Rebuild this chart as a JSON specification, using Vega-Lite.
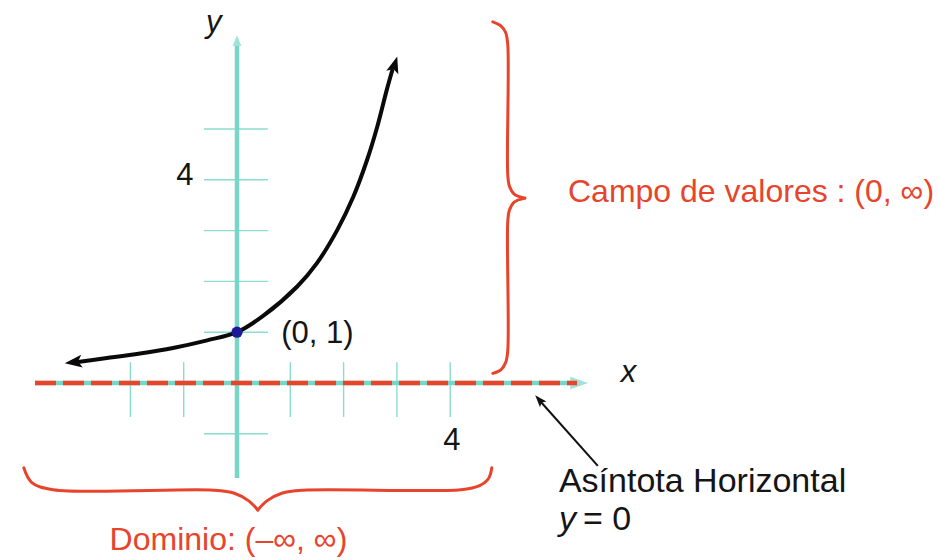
{
  "$schema": "https://vega.github.io/schema/vega-lite/v6.json",
  "width": 939,
  "height": 560,
  "padding": 0,
  "autosize": {"type": "none"},
  "background": "white",
  "config": {"view": {"stroke": null}, "text": {"font": "Liberation Sans"}},
  "datasets": {
    "llaves": [
      {"tramo": "rango_sup", "orden": 1, "x": 4.80, "y": 7.11},
      {"tramo": "rango_sup", "orden": 2, "x": 4.95, "y": 7.03},
      {"tramo": "rango_sup", "orden": 3, "x": 5.04, "y": 6.90},
      {"tramo": "rango_sup", "orden": 4, "x": 5.08, "y": 6.66},
      {"tramo": "rango_sup", "orden": 5, "x": 5.08, "y": 4.10},
      {"tramo": "rango_sup", "orden": 6, "x": 5.11, "y": 3.88},
      {"tramo": "rango_sup", "orden": 7, "x": 5.20, "y": 3.72},
      {"tramo": "rango_sup", "orden": 8, "x": 5.40, "y": 3.64},
      {"tramo": "rango_inf", "orden": 1, "x": 5.40, "y": 3.64},
      {"tramo": "rango_inf", "orden": 2, "x": 5.20, "y": 3.56},
      {"tramo": "rango_inf", "orden": 3, "x": 5.11, "y": 3.40},
      {"tramo": "rango_inf", "orden": 4, "x": 5.08, "y": 3.18},
      {"tramo": "rango_inf", "orden": 5, "x": 5.08, "y": 0.64},
      {"tramo": "rango_inf", "orden": 6, "x": 5.04, "y": 0.40},
      {"tramo": "rango_inf", "orden": 7, "x": 4.95, "y": 0.26},
      {"tramo": "rango_inf", "orden": 8, "x": 4.80, "y": 0.19},
      {"tramo": "dominio_izq", "orden": 1, "x": -4.00, "y": -1.67},
      {"tramo": "dominio_izq", "orden": 2, "x": -3.85, "y": -1.96},
      {"tramo": "dominio_izq", "orden": 3, "x": -3.45, "y": -2.10},
      {"tramo": "dominio_izq", "orden": 4, "x": -0.45, "y": -2.11},
      {"tramo": "dominio_izq", "orden": 5, "x": -0.05, "y": -2.17},
      {"tramo": "dominio_izq", "orden": 6, "x": 0.22, "y": -2.32},
      {"tramo": "dominio_izq", "orden": 7, "x": 0.39, "y": -2.50},
      {"tramo": "dominio_der", "orden": 1, "x": 0.39, "y": -2.50},
      {"tramo": "dominio_der", "orden": 2, "x": 0.56, "y": -2.32},
      {"tramo": "dominio_der", "orden": 3, "x": 0.84, "y": -2.17},
      {"tramo": "dominio_der", "orden": 4, "x": 1.24, "y": -2.11},
      {"tramo": "dominio_der", "orden": 5, "x": 4.20, "y": -2.10},
      {"tramo": "dominio_der", "orden": 6, "x": 4.55, "y": -2.02},
      {"tramo": "dominio_der", "orden": 7, "x": 4.72, "y": -1.88},
      {"tramo": "dominio_der", "orden": 8, "x": 4.78, "y": -1.67}
    ],
    "marcas": [
      {"x": -2, "y": -0.67, "x2": -2, "y2": 0.41},
      {"x": -1, "y": -0.67, "x2": -1, "y2": 0.41},
      {"x": 1, "y": -0.67, "x2": 1, "y2": 0.41},
      {"x": 2, "y": -0.67, "x2": 2, "y2": 0.41},
      {"x": 3, "y": -0.67, "x2": 3, "y2": 0.41},
      {"x": 4, "y": -0.67, "x2": 4, "y2": 0.41},
      {"x": -0.62, "y": -1, "x2": 0.58, "y2": -1},
      {"x": -0.62, "y": 1, "x2": 0.58, "y2": 1},
      {"x": -0.62, "y": 2, "x2": 0.58, "y2": 2},
      {"x": -0.62, "y": 3, "x2": 0.58, "y2": 3},
      {"x": -0.62, "y": 4, "x2": 0.58, "y2": 4},
      {"x": -0.62, "y": 5, "x2": 0.58, "y2": 5}
    ],
    "ejes": [
      {"eje": "x", "x": -3.79, "y": 0, "x2": 6.28, "y2": 0},
      {"eje": "y", "x": 0, "y": -1.87, "x2": 0, "y2": 6.66}
    ],
    "asintota": [
      {"x": -3.79, "y": 0, "x2": 6.38}
    ],
    "curva": [
      {"x": -3.02, "y": 0.41},
      {"x": -2.44, "y": 0.49},
      {"x": -1.82, "y": 0.58},
      {"x": -1.20, "y": 0.69},
      {"x": -0.56, "y": 0.84},
      {"x": 0, "y": 1},
      {"x": 0.49, "y": 1.32},
      {"x": 1.13, "y": 1.90},
      {"x": 1.50, "y": 2.36},
      {"x": 1.88, "y": 3.01},
      {"x": 2.18, "y": 3.66},
      {"x": 2.44, "y": 4.39},
      {"x": 2.63, "y": 5.04},
      {"x": 2.81, "y": 5.77},
      {"x": 2.92, "y": 6.18}
    ],
    "puntas": [
      {"punta": "eje_x", "x": 6.42, "y": 0},
      {"punta": "eje_y", "x": 0, "y": 6.74},
      {"punta": "curva_der", "x": 2.96, "y": 6.27},
      {"punta": "curva_izq", "x": -3.07, "y": 0.41},
      {"punta": "nota", "x": 5.67, "y": -0.33}
    ],
    "flecha_nota": [
      {"x": 6.77, "y": -1.63, "x2": 5.69, "y2": -0.36}
    ],
    "punto": [
      {"x": 0, "y": 1}
    ],
    "textos": [
      {"grupo": "normal", "texto": "(0, 1)", "x": 0.83, "y": 0.79},
      {"grupo": "numero", "texto": "4", "x": -0.98, "y": 3.90},
      {"grupo": "numero", "texto": "4", "x": 4.03, "y": -1.32},
      {"grupo": "cursiva", "texto": "y", "x": -0.58, "y": 6.90},
      {"grupo": "cursiva", "texto": "x", "x": 7.20, "y": 0.02},
      {"grupo": "nota", "texto": "Asíntota Horizontal", "x": 6.04, "y": -2.15},
      {"grupo": "nota_cursiva", "texto": "y", "x": 6.04, "y": -2.90},
      {"grupo": "nota", "texto": "= 0", "x": 6.49, "y": -2.90},
      {"grupo": "rojo", "texto": "Campo de valores : (0, ∞)", "x": 6.21, "y": 3.56},
      {"grupo": "rojo", "texto": "Dominio: (–∞, ∞)", "x": -2.39, "y": -3.29}
    ]
  },
  "encoding": {
    "x": {"field": "x", "type": "quantitative", "scale": {"domain": [-4.4465, 13.1707], "nice": false, "zero": false}, "axis": null},
    "y": {"field": "y", "type": "quantitative", "scale": {"domain": [-3.4843, 7.5394], "nice": false, "zero": false}, "axis": null}
  },
  "layer": [
    {
      "data": {"name": "llaves"},
      "mark": {"type": "line", "interpolate": "catmull-rom", "color": "#e8442c", "strokeWidth": 3, "strokeCap": "round"},
      "encoding": {"detail": {"field": "tramo"}, "order": {"field": "orden", "type": "quantitative"}}
    },
    {
      "data": {"name": "marcas"},
      "mark": {"type": "rule", "color": "#8cdccf", "strokeWidth": 1.4},
      "encoding": {"x2": {"field": "x2"}, "y2": {"field": "y2"}}
    },
    {
      "data": {"name": "ejes"},
      "mark": {"type": "rule", "color": "#78d6c6", "strokeWidth": 4.5},
      "encoding": {"x2": {"field": "x2"}, "y2": {"field": "y2"}}
    },
    {
      "data": {"name": "puntas"},
      "transform": [{"filter": "datum.punta === 'eje_x'"}],
      "mark": {"type": "point", "shape": "M0,-1L0.7,1L-0.7,1Z", "filled": true, "opacity": 1, "color": "#9fe2d7", "size": 320, "angle": 90}
    },
    {
      "data": {"name": "puntas"},
      "transform": [{"filter": "datum.punta === 'eje_y'"}],
      "mark": {"type": "point", "shape": "M0,-1L0.8,1L-0.8,1Z", "filled": true, "opacity": 1, "color": "#9fe2d7", "size": 120, "angle": 0}
    },
    {
      "data": {"name": "asintota"},
      "mark": {"type": "rule", "color": "#e8442c", "strokeWidth": 4.5, "strokeDash": [21, 7]},
      "encoding": {"x2": {"field": "x2"}}
    },
    {
      "data": {"name": "curva"},
      "mark": {"type": "line", "interpolate": "catmull-rom", "color": "#0a0a0a", "strokeWidth": 4}
    },
    {
      "data": {"name": "puntas"},
      "transform": [{"filter": "datum.punta === 'curva_der'"}],
      "mark": {"type": "point", "shape": "M0,-1L0.75,1L0,0.55L-0.75,1Z", "filled": true, "opacity": 1, "color": "#0a0a0a", "size": 280, "angle": 17}
    },
    {
      "data": {"name": "puntas"},
      "transform": [{"filter": "datum.punta === 'curva_izq'"}],
      "mark": {"type": "point", "shape": "M0,-1L0.75,1L0,0.55L-0.75,1Z", "filled": true, "opacity": 1, "color": "#0a0a0a", "size": 300, "angle": 263}
    },
    {
      "data": {"name": "punto"},
      "mark": {"type": "point", "shape": "circle", "filled": true, "opacity": 1, "color": "#1b1b9a", "size": 125}
    },
    {
      "data": {"name": "flecha_nota"},
      "mark": {"type": "rule", "color": "#111111", "strokeWidth": 2},
      "encoding": {"x2": {"field": "x2"}, "y2": {"field": "y2"}}
    },
    {
      "data": {"name": "puntas"},
      "transform": [{"filter": "datum.punta === 'nota'"}],
      "mark": {"type": "point", "shape": "M0,-1L0.7,1L0,0.6L-0.7,1Z", "filled": true, "opacity": 1, "color": "#111111", "size": 150, "angle": 319}
    },
    {
      "data": {"name": "textos"},
      "transform": [{"filter": "datum.grupo === 'normal'"}],
      "mark": {"type": "text", "align": "left", "baseline": "alphabetic", "fontSize": 31, "color": "#151515"},
      "encoding": {"text": {"field": "texto"}}
    },
    {
      "data": {"name": "textos"},
      "transform": [{"filter": "datum.grupo === 'numero'"}],
      "mark": {"type": "text", "align": "center", "baseline": "alphabetic", "fontSize": 31, "color": "#151515"},
      "encoding": {"text": {"field": "texto"}}
    },
    {
      "data": {"name": "textos"},
      "transform": [{"filter": "datum.grupo === 'cursiva'"}],
      "mark": {"type": "text", "align": "left", "baseline": "alphabetic", "fontSize": 31, "fontStyle": "italic", "color": "#151515"},
      "encoding": {"text": {"field": "texto"}}
    },
    {
      "data": {"name": "textos"},
      "transform": [{"filter": "datum.grupo === 'nota'"}],
      "mark": {"type": "text", "align": "left", "baseline": "alphabetic", "fontSize": 34, "color": "#151515"},
      "encoding": {"text": {"field": "texto"}}
    },
    {
      "data": {"name": "textos"},
      "transform": [{"filter": "datum.grupo === 'nota_cursiva'"}],
      "mark": {"type": "text", "align": "left", "baseline": "alphabetic", "fontSize": 34, "fontStyle": "italic", "color": "#151515"},
      "encoding": {"text": {"field": "texto"}}
    },
    {
      "data": {"name": "textos"},
      "transform": [{"filter": "datum.grupo === 'rojo'"}],
      "mark": {"type": "text", "align": "left", "baseline": "alphabetic", "fontSize": 32, "color": "#e8442c"},
      "encoding": {"text": {"field": "texto"}}
    }
  ]
}
